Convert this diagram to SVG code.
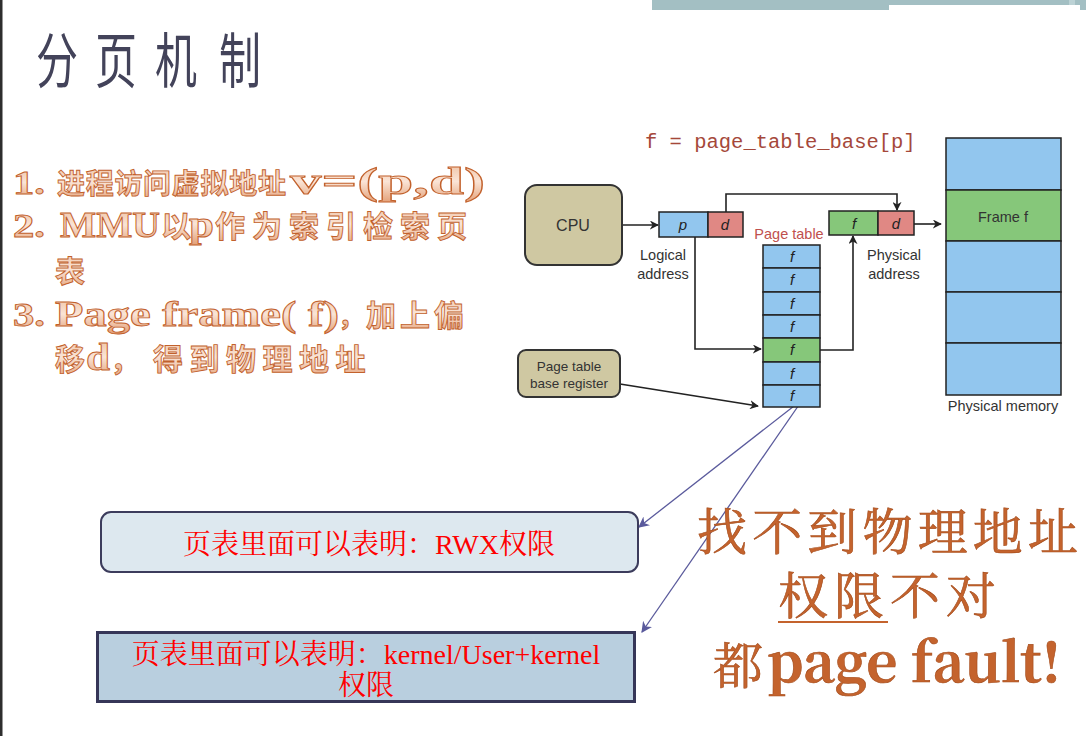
<svg xmlns="http://www.w3.org/2000/svg" width="1086" height="736" viewBox="0 0 1086 736">
  <defs>
    <style>
      .sans { font-family: "Liberation Sans", Arial, sans-serif; fill: #333; }
      .cell { stroke: #222; stroke-width: 1.5; }
      .blue { fill: #92c6ee; }
      .red { fill: #e08884; }
      .green { fill: #86c77a; }
      .khaki { fill: #cfc8a2; stroke: #333; stroke-width: 2; }
      .it { font-family: "Liberation Sans", Arial, sans-serif; font-style: italic; font-size: 15px; fill: #222; text-anchor: middle; }
      .wire { fill: none; stroke: #222; stroke-width: 1.6; }
      .ptr { fill: none; stroke: #5a5a9c; stroke-width: 1.3; }
      .lst { font-family: "Liberation Serif", "Noto Serif CJK SC", "Noto Sans CJK SC", serif; font-weight: bold; fill: url(#warm); stroke: #c2612c; stroke-width: 0.9; }
      .cjk { font-family: "Noto Sans CJK SC", sans-serif; font-weight: bold; font-size: 30px; }
      .note { font-family: "Liberation Serif", "Noto Serif CJK SC", "Noto Sans CJK SC", serif; fill: #ff0000; font-size: 28px; text-anchor: middle; }
      .big { font-family: "Noto Serif CJK SC", "Noto Sans CJK SC", serif; fill: #c4632d; stroke: #a44c1c; stroke-width: 0.6; }
      .title { font-family: "Noto Sans CJK SC", sans-serif; font-weight: normal; font-size: 60px; fill: #43435a; }
    </style>
    <linearGradient id="warm" x1="0" y1="0" x2="0" y2="1">
      <stop offset="0" stop-color="#eebd9c"/>
      <stop offset="0.5" stop-color="#fae4d6"/>
      <stop offset="1" stop-color="#e39f76"/>
    </linearGradient>
    <marker id="ah" viewBox="0 0 10 10" refX="9" refY="5" markerWidth="9" markerHeight="9" markerUnits="userSpaceOnUse" orient="auto">
      <path d="M0,0 L10,5 L0,10 L3,5 z" fill="#222"/>
    </marker>
    <marker id="bh" viewBox="0 0 10 10" refX="9" refY="5" markerWidth="11" markerHeight="11" markerUnits="userSpaceOnUse" orient="auto">
      <path d="M0,0 L10,5 L0,10 L3,5 z" fill="#5a5a9c"/>
    </marker>
  </defs>

  <rect width="1086" height="736" fill="#ffffff"/>

  <!-- slide frame: left rule and top-right band -->
  <rect x="0" y="0" width="2.5" height="736" fill="#2e2e2e"/>
  <rect x="652" y="0" width="434" height="10" fill="#a3bfc3"/>
  <rect x="889" y="5" width="191" height="5" fill="#ffffff"/>
  <rect x="1069" y="0" width="6" height="5" fill="#bcd2d5"/>

  <!-- heading -->
  <g id="title">
    <text class="title" transform="translate(36,83) scale(0.7,1)">分</text>
    <text class="title" transform="translate(95,83) scale(0.7,1)">页</text>
    <text class="title" transform="translate(155,83) scale(0.7,1)">机</text>
    <text class="title" transform="translate(219,83) scale(0.7,1)">制</text>
  </g>

  <!-- numbered steps -->
  <g id="steps">
    <text class="lst" x="13" y="194" font-size="34" textLength="32" lengthAdjust="spacingAndGlyphs">1.</text>
    <text class="lst cjk" x="57" y="194" style="font-size:28px" letter-spacing="0.7">进程访问虚拟地址</text>
    <text class="lst" x="290" y="194" font-size="38" textLength="195" lengthAdjust="spacingAndGlyphs">v=(p,d)</text>

    <text class="lst" x="13" y="237" font-size="34" textLength="32" lengthAdjust="spacingAndGlyphs">2.</text>
    <text class="lst" x="60" y="237" font-size="36" textLength="100" lengthAdjust="spacingAndGlyphs">MMU</text>
    <text class="lst cjk" x="161" y="237">以</text>
    <text class="lst" x="189" y="237" font-size="38" textLength="25" lengthAdjust="spacingAndGlyphs">p</text>
    <text class="lst cjk" x="215" y="237" letter-spacing="7">作为索引检索页</text>
    <text class="lst cjk" x="55" y="282">表</text>

    <text class="lst" x="13" y="326" font-size="34" textLength="32" lengthAdjust="spacingAndGlyphs">3.</text>
    <text class="lst" x="55" y="326" font-size="36" textLength="284" lengthAdjust="spacingAndGlyphs">Page frame( f)</text>
    <text class="lst cjk" x="338" y="326" style="font-size:26px">，</text>
    <text class="lst cjk" x="366" y="326" letter-spacing="4">加上偏</text>
    <text class="lst cjk" x="55" y="370">移</text>
    <text class="lst" x="86" y="370" font-size="38" textLength="24" lengthAdjust="spacingAndGlyphs">d</text>
    <text class="lst cjk" x="110" y="370">，</text>
    <text class="lst cjk" x="153" y="370" letter-spacing="6.5">得到物理地址</text>
  </g>

  <!-- address translation formula -->
  <text x="645" y="148" font-family="'Liberation Mono', 'Courier New', monospace" font-size="20.5" fill="#a5483a">f = page_table_base[p]</text>

  <!-- connectors -->
  <g id="connectors">
    <path class="wire" d="M622,225 H658" marker-end="url(#ah)"/>
    <path class="wire" d="M726,212 V194 H897 V210" marker-end="url(#ah)"/>
    <path class="wire" d="M695,237 V349 H761" marker-end="url(#ah)"/>
    <path class="wire" d="M820,350 H853 V236" marker-end="url(#ah)"/>
    <path class="wire" d="M914,224 H941" marker-end="url(#ah)"/>
    <path class="wire" d="M620,384 L758,406" marker-end="url(#ah)"/>
    <path class="ptr" d="M803,399 L639,527" marker-end="url(#bh)"/>
    <path class="ptr" d="M803,399 L642,632" marker-end="url(#bh)"/>
  </g>

  <g id="cpu">
    <rect class="khaki" x="525" y="185" width="97" height="80" rx="12"/>
    <text class="sans" x="573" y="231" font-size="16" text-anchor="middle">CPU</text>
  </g>

  <g id="logical-address">
    <rect class="cell blue" x="659" y="212" width="49" height="25"/>
    <rect class="cell red" x="708" y="212" width="35" height="25"/>
    <text class="it" x="683" y="230">p</text>
    <text class="it" x="725" y="230">d</text>
    <text class="sans" x="663" y="260" font-size="14.5" text-anchor="middle">Logical</text>
    <text class="sans" x="663" y="279" font-size="14.5" text-anchor="middle">address</text>
  </g>

  <g id="physical-address">
    <rect class="cell green" x="829" y="211" width="49" height="24"/>
    <rect class="cell red" x="878" y="211" width="36" height="24"/>
    <text class="it" x="854" y="229">f</text>
    <text class="it" x="896" y="229">d</text>
    <text class="sans" x="894" y="260" font-size="14.5" text-anchor="middle">Physical</text>
    <text class="sans" x="894" y="279" font-size="14.5" text-anchor="middle">address</text>
  </g>

  <g id="page-table">
    <text x="789" y="239" font-family="'Liberation Sans', Arial, sans-serif" font-size="14.5" fill="#c0504d" text-anchor="middle">Page table</text>
    <rect class="cell blue" x="763" y="245" width="57" height="23"/>
    <rect class="cell blue" x="763" y="268" width="57" height="24"/>
    <rect class="cell blue" x="763" y="292" width="57" height="23"/>
    <rect class="cell blue" x="763" y="315" width="57" height="23"/>
    <rect class="cell green" x="763" y="338" width="57" height="24"/>
    <rect class="cell blue" x="763" y="362" width="57" height="23"/>
    <rect class="cell blue" x="763" y="385" width="57" height="22"/>
    <text class="it" x="792" y="262">f</text>
    <text class="it" x="792" y="285">f</text>
    <text class="it" x="792" y="309">f</text>
    <text class="it" x="792" y="332">f</text>
    <text class="it" x="792" y="355">f</text>
    <text class="it" x="792" y="379">f</text>
    <text class="it" x="792" y="401">f</text>
  </g>

  <g id="ptbr">
    <rect class="khaki" x="518" y="350" width="102" height="47" rx="8"/>
    <text class="sans" x="569" y="371" font-size="13.5" text-anchor="middle">Page table</text>
    <text class="sans" x="569" y="388" font-size="13.5" text-anchor="middle">base register</text>
  </g>

  <g id="physical-memory">
    <rect class="cell blue" x="946" y="138" width="115" height="52"/>
    <rect class="cell green" x="946" y="190" width="115" height="51"/>
    <rect class="cell blue" x="946" y="241" width="115" height="51"/>
    <rect class="cell blue" x="946" y="292" width="115" height="51"/>
    <rect class="cell blue" x="946" y="343" width="115" height="52"/>
    <text class="sans" x="1003" y="222" font-size="14.5" text-anchor="middle">Frame f</text>
    <text class="sans" x="1003" y="411" font-size="14.5" text-anchor="middle">Physical memory</text>
  </g>

  <g id="note-rwx">
    <rect x="101" y="512" width="537" height="60" rx="10" fill="#dde8ef" stroke="#3c3c5c" stroke-width="2"/>
    <text class="note" x="369" y="554">页表里面可以表明：RWX权限</text>
  </g>

  <g id="note-kernel">
    <rect x="97.5" y="632.5" width="537" height="69" fill="#b9cfdf" stroke="#363658" stroke-width="3"/>
    <text class="note" x="366" y="664">页表里面可以表明：kernel/User+kernel</text>
    <text class="note" x="366" y="695">权限</text>
  </g>

  <g id="fault-summary">
    <text class="big" x="697" y="550" font-size="50" textLength="381" lengthAdjust="spacing">找不到物理地址</text>
    <text class="big" x="778" y="614" font-size="50" textLength="218" lengthAdjust="spacing">权限不对</text>
    <rect x="778" y="621" width="110" height="2" fill="#c4632d"/>
    <text class="big" x="713" y="684" font-size="50">都</text>
    <text class="big" x="767" y="682" font-size="54" font-family="'Liberation Serif', serif" font-weight="bold" textLength="294" lengthAdjust="spacingAndGlyphs">page fault!</text>
  </g>
</svg>
